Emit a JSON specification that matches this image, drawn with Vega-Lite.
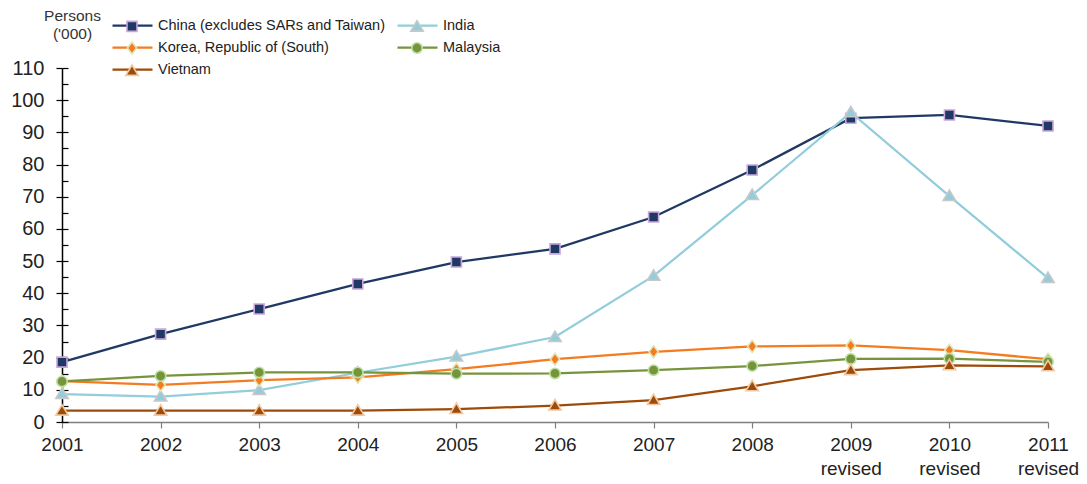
{
  "$schema": "https://vega.github.io/schema/vega-lite/v6.json",
  "width": 986,
  "height": 354,
  "autosize": "none",
  "padding": {"left": 62, "top": 68, "right": 39, "bottom": 62},
  "background": "white",
  "config": {"view": {"stroke": null}, "font": "Liberation Sans"},
  "data": {"values": [
    {"country": "China (excludes SARs and Taiwan)", "year": 2001, "value": 18.6},
    {"country": "China (excludes SARs and Taiwan)", "year": 2002, "value": 27.3},
    {"country": "China (excludes SARs and Taiwan)", "year": 2003, "value": 35.1},
    {"country": "China (excludes SARs and Taiwan)", "year": 2004, "value": 42.9},
    {"country": "China (excludes SARs and Taiwan)", "year": 2005, "value": 49.7},
    {"country": "China (excludes SARs and Taiwan)", "year": 2006, "value": 53.8},
    {"country": "China (excludes SARs and Taiwan)", "year": 2007, "value": 63.7},
    {"country": "China (excludes SARs and Taiwan)", "year": 2008, "value": 78.3},
    {"country": "China (excludes SARs and Taiwan)", "year": 2009, "value": 94.4},
    {"country": "China (excludes SARs and Taiwan)", "year": 2010, "value": 95.4},
    {"country": "China (excludes SARs and Taiwan)", "year": 2011, "value": 92.0},
    {"country": "India", "year": 2001, "value": 8.7},
    {"country": "India", "year": 2002, "value": 7.9},
    {"country": "India", "year": 2003, "value": 9.9},
    {"country": "India", "year": 2004, "value": 15.3},
    {"country": "India", "year": 2005, "value": 20.3},
    {"country": "India", "year": 2006, "value": 26.4},
    {"country": "India", "year": 2007, "value": 45.4},
    {"country": "India", "year": 2008, "value": 70.5},
    {"country": "India", "year": 2009, "value": 96.2},
    {"country": "India", "year": 2010, "value": 70.2},
    {"country": "India", "year": 2011, "value": 44.7},
    {"country": "Korea, Republic of (South)", "year": 2001, "value": 12.7},
    {"country": "Korea, Republic of (South)", "year": 2002, "value": 11.5},
    {"country": "Korea, Republic of (South)", "year": 2003, "value": 13.0},
    {"country": "Korea, Republic of (South)", "year": 2004, "value": 13.9},
    {"country": "Korea, Republic of (South)", "year": 2005, "value": 16.4},
    {"country": "Korea, Republic of (South)", "year": 2006, "value": 19.5},
    {"country": "Korea, Republic of (South)", "year": 2007, "value": 21.8},
    {"country": "Korea, Republic of (South)", "year": 2008, "value": 23.5},
    {"country": "Korea, Republic of (South)", "year": 2009, "value": 23.8},
    {"country": "Korea, Republic of (South)", "year": 2010, "value": 22.3},
    {"country": "Korea, Republic of (South)", "year": 2011, "value": 19.5},
    {"country": "Malaysia", "year": 2001, "value": 12.6},
    {"country": "Malaysia", "year": 2002, "value": 14.3},
    {"country": "Malaysia", "year": 2003, "value": 15.4},
    {"country": "Malaysia", "year": 2004, "value": 15.4},
    {"country": "Malaysia", "year": 2005, "value": 15.0},
    {"country": "Malaysia", "year": 2006, "value": 15.1},
    {"country": "Malaysia", "year": 2007, "value": 16.1},
    {"country": "Malaysia", "year": 2008, "value": 17.4},
    {"country": "Malaysia", "year": 2009, "value": 19.6},
    {"country": "Malaysia", "year": 2010, "value": 19.7},
    {"country": "Malaysia", "year": 2011, "value": 18.7},
    {"country": "Vietnam", "year": 2001, "value": 3.5},
    {"country": "Vietnam", "year": 2002, "value": 3.5},
    {"country": "Vietnam", "year": 2003, "value": 3.5},
    {"country": "Vietnam", "year": 2004, "value": 3.5},
    {"country": "Vietnam", "year": 2005, "value": 4.0},
    {"country": "Vietnam", "year": 2006, "value": 5.1},
    {"country": "Vietnam", "year": 2007, "value": 6.8},
    {"country": "Vietnam", "year": 2008, "value": 11.1},
    {"country": "Vietnam", "year": 2009, "value": 16.1},
    {"country": "Vietnam", "year": 2010, "value": 17.6},
    {"country": "Vietnam", "year": 2011, "value": 17.3}
  ]},
  "resolve": {"axis": {"y": "independent", "x": "independent"}},
  "layer": [
    {
      "mark": {"type": "line", "strokeWidth": 2.25},
      "encoding": {
        "x": {
          "field": "year", "type": "quantitative",
          "scale": {"domain": [2001, 2011], "nice": false, "zero": false},
          "axis": {
            "title": null, "values": [2001,2002,2003,2004,2005,2006,2007,2008,2009,2010,2011],
            "format": "d", "grid": false,
            "labelExpr": "datum.value >= 2009 ? [datum.label, 'revised'] : datum.label",
            "labelFont": "Liberation Sans", "labelFontSize": 19, "labelColor": "#222222",
            "labelLineHeight": 24, "labelPadding": 7, "labelFlush": false, "labelOverlap": false,
            "domainColor": "#7f7f7f", "domainWidth": 1.5,
            "tickColor": "#7f7f7f", "tickWidth": 1.2, "tickSize": 6
          }
        },
        "y": {
          "field": "value", "type": "quantitative",
          "scale": {"domain": [0, 110], "nice": false},
          "axis": {
            "title": ["Persons", "('000)"],
            "titleAngle": 0, "titleAlign": "center", "titleBaseline": "top",
            "titleX": 10, "titleY": -60, "titleFont": "Liberation Sans", "titleFontSize": 15.5,
            "titleFontWeight": "normal", "titleColor": "#333333", "titleLineHeight": 18,
            "values": [0,10,20,30,40,50,60,70,80,90,100,110],
            "grid": false, "labelFont": "Liberation Sans", "labelFontSize": 20, "labelColor": "#222222",
            "labelPadding": 12, "domainColor": "#000000", "domainWidth": 1.5,
            "tickColor": "#000000", "tickWidth": 1.2, "tickSize": 6
          }
        },
        "color": {
          "field": "country", "type": "nominal",
          "scale": {
            "domain": ["China (excludes SARs and Taiwan)", "India", "Korea, Republic of (South)", "Malaysia", "Vietnam"],
            "range": ["#1f3864", "#92cddc", "#f47b20", "#77933c", "#9e4a08"]
          },
          "legend": {
            "title": null, "orient": "none", "legendX": 59, "legendY": -54, "direction": "horizontal",
            "columns": 2, "columnPadding": 7, "rowPadding": 4, "padding": 0,
            "symbolType": "M-2,0H2", "symbolSize": 400, "symbolStrokeWidth": 2.25,
            "labelFont": "Liberation Sans", "labelFontSize": 14.5,
            "labelColor": "#222222", "labelOffset": 14, "labelLimit": 400
          }
        }
      }
    },
    {
      "mark": {"type": "point", "filled": true, "size": 400, "strokeWidth": 1.6, "opacity": 1},
      "encoding": {
        "x": {"field": "year", "type": "quantitative", "axis": null},
        "y": {
          "field": "value", "type": "quantitative",
          "axis": {
            "orient": "left", "title": null, "labels": false, "domain": false, "grid": false,
            "values": [0,5,10,15,20,25,30,35,40,45,50,55,60,65,70,75,80,85,90,95,100,105,110],
            "tickSize": -6, "tickColor": "#000000", "tickWidth": 1.2
          }
        },
        "shape": {
          "field": "country", "type": "nominal",
          "scale": {"range": [
            "M-0.5,-0.5H0.5V0.5H-0.5Z",
            "M0,-0.6L0.62,0.44L-0.62,0.44Z",
            "M0,-0.6L0.46,0L0,0.6L-0.46,0Z",
            "M0.52,0A0.52,0.52 0 1,1 -0.52,0A0.52,0.52 0 1,1 0.52,0Z",
            "M0,-0.6L0.62,0.44L-0.62,0.44Z"
          ]},
          "legend": {
            "title": null, "orient": "none", "legendX": 59, "legendY": -53, "direction": "horizontal",
            "columns": 2, "columnPadding": 249, "rowPadding": 2, "padding": 0,
            "symbolSize": 400, "symbolStrokeWidth": 1.6,
            "labelExpr": "''", "labelFontSize": 14.5, "labelOffset": 14, "labelLimit": 400
          }
        },
        "fill": {
          "field": "country", "type": "nominal",
          "scale": {"range": ["#1f3864", "#92cddc", "#f47b20", "#77933c", "#9e4a08"]}
        },
        "stroke": {
          "field": "country", "type": "nominal",
          "scale": {"range": ["#c9a6dd", "#c8c8c8", "#dfe6b4", "#b9e3a3", "#f0c9a4"]}
        }
      }
    }
  ]
}
